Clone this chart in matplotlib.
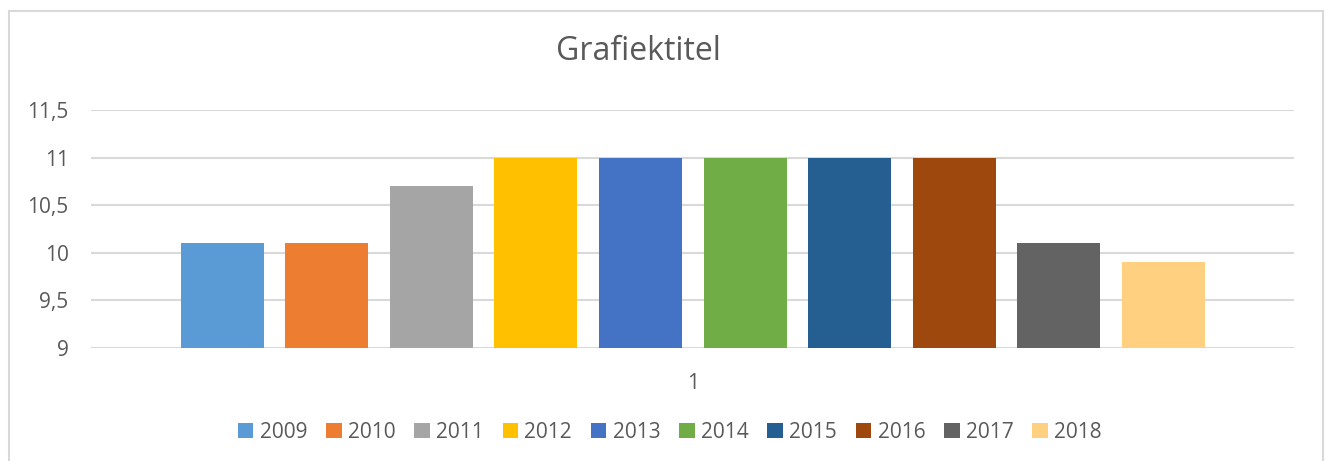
import matplotlib.pyplot as plt
from matplotlib.patches import Rectangle

years = ['2009', '2010', '2011', '2012', '2013', '2014', '2015', '2016', '2017', '2018']
values = [10.1, 10.1, 10.7, 11, 11, 11, 11, 11, 10.1, 9.9]
colors = ['#5B9BD5', '#ED7D31', '#A5A5A5', '#FFC000', '#4472C4',
          '#70AD47', '#255E91', '#9E480E', '#636363', '#FFD07F']
yticks = [9, 9.5, 10, 10.5, 11, 11.5]
ytick_labels = ['9', '9,5', '10', '10,5', '11', '11,5']
category = '1'

text_color = '#595959'
plt.rcParams['font.family'] = ['Open Sans', 'DejaVu Sans']

fig = plt.figure(figsize=(13.3, 4.61), dpi=100, facecolor='white')
ax = fig.add_axes([0.0684, 0.2451, 0.9046, 0.5163])

# outer chart border (Excel style)
fig.patches.append(Rectangle((9 / 1330, -0.05), 1314 / 1330, 1 - 11 / 461 + 0.05,
                             transform=fig.transFigure, fill=False,
                             edgecolor='#D9D9D9', linewidth=1.5))

x = list(range(len(years)))
for i in x:
    ax.bar(i, values[i] - 9, bottom=9, width=0.794, color=colors[i],
           label=years[i], zorder=3)

ax.set_ylim(9, 11.5)
ax.set_xlim(-1.255, 10.25)
ax.set_yticks(yticks)
ax.set_yticklabels(ytick_labels, color=text_color, fontsize=15)
ax.set_xticks([4.5])
ax.set_xticklabels([category], color=text_color, fontsize=15)
ax.tick_params(axis='both', length=0)
ax.tick_params(axis='y', pad=16)
ax.tick_params(axis='x', pad=18)
ax.grid(axis='y', color='#D9D9D9', linewidth=1.5, zorder=0)
for s in ax.spines.values():
    s.set_visible(False)

fig.text(0.48, 0.888, 'Grafiektitel', ha='center', va='center',
         fontsize=23, color=text_color)

fig.legend(loc='center', bbox_to_anchor=(0.5037, 0.062), ncol=10, frameon=False,
           fontsize=15, labelcolor=text_color, handlelength=0.75,
           handleheight=0.75, handletextpad=0.3, columnspacing=0.9)

fig.savefig('out.png', dpi=100, facecolor='white')
